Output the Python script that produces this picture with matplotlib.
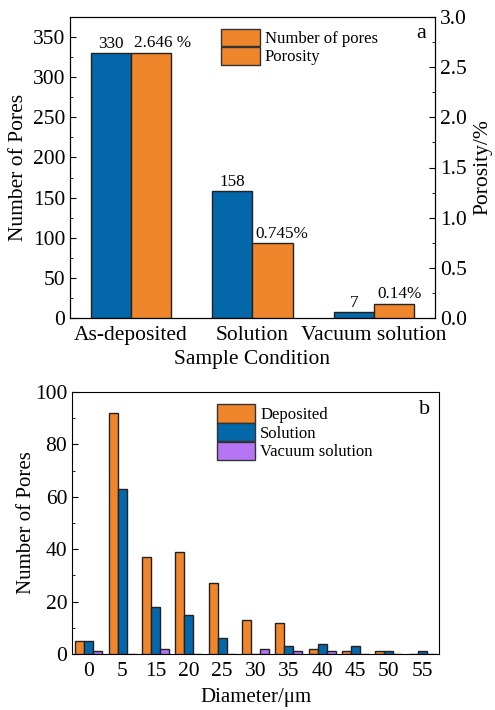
import matplotlib
matplotlib.use("Agg")
import matplotlib.pyplot as plt
import numpy as np
from matplotlib.ticker import MultipleLocator, FormatStrFormatter
from matplotlib.patches import Patch

plt.rcParams['font.family'] = ['Liberation Serif', 'DejaVu Serif']

# ---- data panel a ----
conditions = ["As-deposited", "Solution", "Vacuum solution"]
pore_counts = [330, 158, 7]
porosity = [2.646, 0.745, 0.14]
count_labels = ["330", "158", "7"]
porosity_labels = ["2.646 %", "0.745%", "0.14%"]

# ---- data panel b ----
diam_labels = ["0", "5", "15", "20", "25", "30", "35", "40", "45", "50", "55"]
deposited = [5, 92, 37, 39, 27, 13, 12, 2, 1, 1, 0]
solution = [5, 63, 18, 15, 6, 0, 3, 4, 3, 1, 1]
vacuum = [1, 0, 2, 0, 0, 2, 1, 1, 0, 0, 0]

BLUE = "#0467A9"
ORANGE = "#F0862B"
PURPLE = "#B676F4"

W, H = 495, 710
fig = plt.figure(figsize=(W/100, H/100), dpi=100)

def axpx(l, t, r, b):
    return fig.add_axes([l/W, 1-b/H, (r-l)/W, (b-t)/H])

TICK = 15.5
LAB = 15.5
ANN = 12.3

# ---------- panel a ----------
ax = axpx(70, 17, 435, 318)
ax2 = ax.twinx()
x = np.arange(len(conditions))
bw = 0.33
ax.bar(x - bw/2, pore_counts, bw, color=BLUE, edgecolor="#222222", linewidth=1.0, zorder=3)
ax2.bar(x + bw/2, porosity, bw, color=ORANGE, edgecolor="#222222", linewidth=1.0, zorder=3)
ax.set_xlim(-0.5, 2.5)
ax.set_ylim(0, 375)
ax2.set_ylim(0, 3.0)
ax.yaxis.set_major_locator(MultipleLocator(50))
ax.yaxis.set_minor_locator(MultipleLocator(25))
ax2.yaxis.set_major_locator(MultipleLocator(0.5))
ax2.yaxis.set_minor_locator(MultipleLocator(0.25))
ax2.yaxis.set_major_formatter(FormatStrFormatter('%.1f'))
ax.set_xticks(x)
ax.set_xticklabels(conditions)
ax.tick_params(axis='x', length=0, labelsize=TICK, pad=6)
for a in (ax, ax2):
    a.tick_params(axis='y', which='both', direction='in', labelsize=TICK)
    a.tick_params(axis='y', which='major', length=4)
    a.tick_params(axis='y', which='minor', length=2.5)
ax.set_ylabel("Number of Pores", fontsize=LAB, labelpad=3)
ax2.set_ylabel("Porosity/%", fontsize=LAB, labelpad=5)
ax.set_xlabel("Sample Condition", fontsize=LAB, labelpad=3)
for xi, v, s in zip(x, pore_counts, count_labels):
    ax.text(xi - bw/2, v + 2, s, ha='center', va='bottom', fontsize=ANN)
for xi, v, s in zip(x, porosity, porosity_labels):
    ax2.text(xi + 0.025, v + 0.015, s, ha='left', va='bottom', fontsize=ANN)
ha = [Patch(facecolor=ORANGE, edgecolor="#333333", linewidth=1.0),
      Patch(facecolor=ORANGE, edgecolor="#333333", linewidth=1.0)]
ax2.legend(ha, ["Number of pores", "Porosity"], loc='upper left',
           bbox_to_anchor=(0.383, 1.0), frameon=False, fontsize=12,
           handlelength=2.3, handleheight=1.25, labelspacing=0.0,
           handletextpad=0.3, borderaxespad=0.3)
ax.text(0.975, 0.945, "a", transform=ax.transAxes, ha='right', va='center', fontsize=16)

# ---------- panel b ----------
bx = axpx(72, 392, 439, 654)
xb = np.arange(len(diam_labels))
bw2 = 0.27
bx.bar(xb - bw2, deposited, bw2, color=ORANGE, edgecolor="#222222", linewidth=1.0, zorder=3)
bx.bar(xb, solution, bw2, color=BLUE, edgecolor="#222222", linewidth=1.0, zorder=3)
bx.bar(xb + bw2, vacuum, bw2, color=PURPLE, edgecolor="#222222", linewidth=1.0, zorder=3)
bx.set_xlim(-0.5, len(diam_labels) - 0.5)
bx.set_ylim(0, 100)
bx.yaxis.set_major_locator(MultipleLocator(20))
bx.yaxis.set_minor_locator(MultipleLocator(10))
bx.set_xticks(xb)
bx.set_xticklabels(diam_labels)
bx.tick_params(axis='x', length=0, labelsize=TICK, pad=6)
bx.tick_params(axis='y', which='both', direction='in', labelsize=TICK)
bx.tick_params(axis='y', which='major', length=4)
bx.tick_params(axis='y', which='minor', length=2.5)
bx.set_ylabel("Number of Pores", fontsize=15, labelpad=-1)
bx.set_xlabel("Diameter/μm", fontsize=15, labelpad=5)
hb = [Patch(facecolor=c, edgecolor="#333333", linewidth=1.0) for c in (ORANGE, BLUE, PURPLE)]
bx.legend(hb, ["Deposited", "Solution", "Vacuum solution"], loc='upper left',
          bbox_to_anchor=(0.361, 1.0), frameon=False, fontsize=12,
          handlelength=2.3, handleheight=1.3, labelspacing=0.0,
          handletextpad=0.3, borderaxespad=0.35)
bx.text(0.975, 0.935, "b", transform=bx.transAxes, ha='right', va='center', fontsize=16)

fig.savefig("out.png", dpi=100)
